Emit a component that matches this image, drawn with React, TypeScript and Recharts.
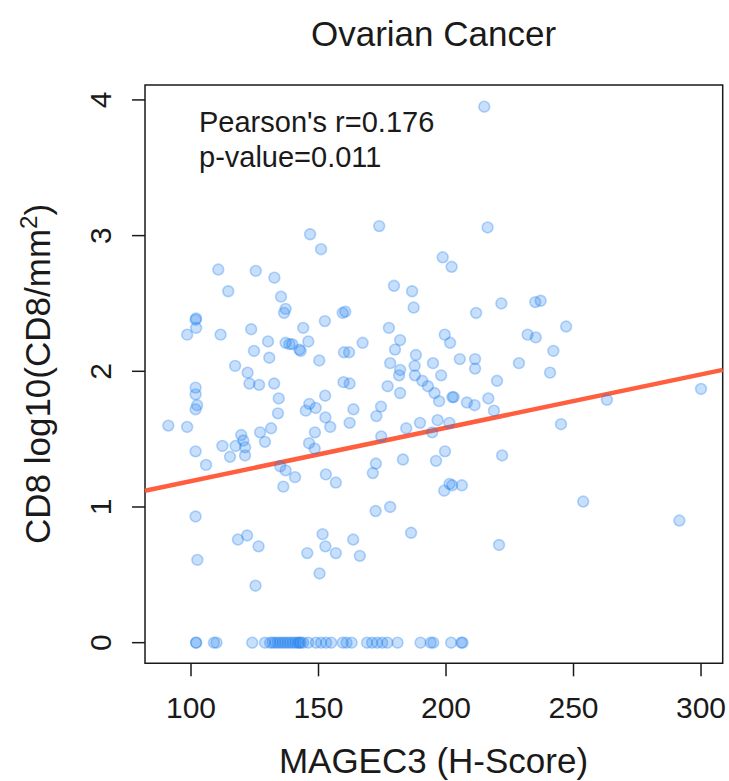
import React from "react";
import { ScatterChart, Scatter, XAxis, YAxis, ReferenceLine, ReferenceArea } from "recharts";

// MAGEC3 H-score values (x) and CD8 log10 density (y)
const mageScores: number[] = [
  215, 173.8, 216.3, 146.7, 151, 198.7, 202.2, 110.7, 125.4, 132.7,
  179.6, 186.7, 114.6, 135.3, 237.1, 235, 221.7, 187.3, 137.1, 136.5,
  211.8, 159.5, 160.5, 101.8, 102, 152.5, 247.1, 102, 123.6, 144,
  177.6, 98.5, 111.6, 232, 199.5, 235.2, 182, 130.2, 146, 137.1,
  138.6, 139.7, 167.3, 201.6, 180, 142.5, 143, 124.7, 242.1, 160,
  162, 188.2, 130.7, 150.3, 205.4, 211.4, 178.1, 194.9, 228.6, 117.3,
  187.7, 211.4, 182, 240.8, 122.2, 181.6, 187.8, 198.1, 220, 190.7,
  122.9, 126.7, 132.6, 159.8, 162.2, 177.1, 192.9, 101.8, 300, 101.8,
  182, 195.5, 152.6, 202.5, 203, 216.6, 134.4, 197.3, 263.1, 208.2,
  211.2, 146.4, 102.4, 174.5, 148.9, 101.8, 163.7, 145, 218.8, 134.1,
  172.7, 152.7, 189.8, 196.7, 201.3, 162.2, 245.1, 91.1, 98.5, 154.6,
  184.4, 131.4, 127.1, 148.6, 194.6, 119.7, 174.6, 120.5, 129, 146.3,
  117.5, 112.3, 121.2, 148.5, 101.8, 199.6, 121.2, 115.3, 222, 196.1,
  183.1, 172.5, 105.9, 135, 137.1, 171.3, 152.9, 140.8, 156.8, 201.4,
  202.4, 206.2, 136.2, 199.3, 253.8, 178.1, 172.4, 101.8, 291.5, 186.3,
  151.6, 122, 163.6, 118.4, 126.5, 220.8, 152.7, 145.6, 156.8, 166.2,
  102.5, 150.4, 125.3,
  // zero CD8 cases
  102, 102, 109, 110, 124, 129, 131, 132, 133, 134,
  135, 136, 137, 138, 139, 140, 141, 142, 142.5, 143,
  144, 146, 149, 151, 153, 155, 159.5, 161, 163, 169,
  171, 173, 175, 177, 181, 190, 194, 195, 202, 206, 206.5,
];

const cd8Log: number[] = [
  3.95, 3.07, 3.06, 3.01, 2.9, 2.84, 2.77, 2.75, 2.74, 2.69,
  2.63, 2.59, 2.59, 2.55, 2.52, 2.51, 2.5, 2.47, 2.46, 2.43,
  2.43, 2.43, 2.44, 2.38, 2.39, 2.37, 2.33, 2.32, 2.31, 2.32,
  2.32, 2.27, 2.27, 2.27, 2.27, 2.25, 2.23, 2.22, 2.22, 2.21,
  2.2, 2.2, 2.21, 2.21, 2.16, 2.16, 2.15, 2.15, 2.15, 2.14,
  2.14, 2.12, 2.1, 2.08, 2.09, 2.09, 2.06, 2.06, 2.06, 2.04,
  2.04, 2.02, 2.01, 1.99, 1.99, 1.97, 1.97, 1.97, 1.93, 1.93,
  1.91, 1.9, 1.91, 1.92, 1.91, 1.89, 1.89, 1.88, 1.87, 1.83,
  1.84, 1.84, 1.82, 1.81, 1.81, 1.8, 1.8, 1.78, 1.79, 1.77,
  1.75, 1.76, 1.75, 1.74, 1.73, 1.72, 1.72, 1.71, 1.71, 1.69,
  1.67, 1.66, 1.62, 1.64, 1.62, 1.62, 1.61, 1.6, 1.59, 1.59,
  1.58, 1.58, 1.55, 1.55, 1.55, 1.53, 1.52, 1.49, 1.48, 1.47,
  1.45, 1.45, 1.44, 1.43, 1.41, 1.41, 1.38, 1.37, 1.38, 1.34,
  1.35, 1.32, 1.31, 1.3, 1.27, 1.25, 1.24, 1.22, 1.18, 1.17,
  1.16, 1.16, 1.15, 1.12, 1.04, 1.0, 0.97, 0.93, 0.9, 0.81,
  0.8, 0.79, 0.76, 0.76, 0.71, 0.72, 0.71, 0.66, 0.66, 0.64,
  0.61, 0.51, 0.42,
  0, 0, 0, 0, 0, 0, 0, 0, 0, 0,
  0, 0, 0, 0, 0, 0, 0, 0, 0, 0,
  0, 0, 0, 0, 0, 0, 0, 0, 0, 0,
  0, 0, 0, 0, 0, 0, 0, 0, 0, 0, 0,
];

const xTicks: number[] = [100, 150, 200, 250, 300];
const yTicks: number[] = [0, 1, 2, 3, 4];
const xDomain: [number, number] = [81.96, 308.5];
const yDomain: [number, number] = [-0.152, 4.11];

// fitted regression line (intercept, slope) as drawn in the reference
const fitIntercept = 0.798;
const fitSlope = 0.00393;

const titleText = "Ovarian Cancer";
const xTitle = "MAGEC3 (H-Score)";
const statsLines: string[] = ["Pearson's r=0.176", "p-value=0.011"];

const points = mageScores.map((x, i) => ({ x, y: cd8Log[i] }));

const FONT = "'Liberation Sans', Arial, Helvetica, sans-serif";
const INK = "#1a1a1a";

const XTick = (props: any) => {
  const { x, y, payload } = props;
  return (
    <text x={x} y={y} dy="0.71em" textAnchor="middle" fontSize={30} fontFamily={FONT} fill={INK}>
      {payload.value}
    </text>
  );
};

const YTick = (props: any) => {
  const { x, y, payload } = props;
  return (
    <text
      x={x}
      y={y}
      transform={`rotate(-90 ${x} ${y})`}
      textAnchor="middle"
      fontSize={30}
      fontFamily={FONT}
      fill={INK}
    >
      {payload.value}
    </text>
  );
};

const Dot = (props: any) => {
  const { cx, cy } = props;
  if (cx == null || cy == null) return null;
  return (
    <circle
      cx={cx}
      cy={cy}
      r={5.4}
      fill="#1E7FF0"
      fillOpacity={0.25}
      stroke="#1E7FF0"
      strokeOpacity={0.32}
      strokeWidth={1.6}
    />
  );
};

export default function App() {
  return (
    <div style={{ position: "absolute", left: 0, top: 0, width: 729, height: 781, background: "#fff" }}>
      <ScatterChart
        width={729}
        height={781}
        margin={{ top: 85, right: 6.3, bottom: 57.7, left: 85 }}
        style={{ fontFamily: FONT }}
      >
        <XAxis
          type="number"
          dataKey="x"
          domain={xDomain}
          ticks={xTicks}
          allowDataOverflow
          height={60}
          tickSize={13}
          tickMargin={20}
          axisLine={false}
          tickLine={{ stroke: INK, strokeWidth: 1.5 }}
          tick={<XTick />}
        />
        <YAxis
          type="number"
          dataKey="y"
          domain={yDomain}
          ticks={yTicks}
          allowDataOverflow
          width={60}
          tickSize={13}
          tickMargin={21}
          axisLine={false}
          tickLine={{ stroke: INK, strokeWidth: 1.5 }}
          tick={<YTick />}
        />
        <Scatter data={points} isAnimationActive={false} shape={<Dot />} />
        <ReferenceLine
          segment={[
            { x: xDomain[0], y: fitIntercept + fitSlope * xDomain[0] },
            { x: xDomain[1], y: fitIntercept + fitSlope * xDomain[1] },
          ]}
          stroke="#FF5E3F"
          strokeWidth={4.5}
          ifOverflow="visible"
        />
        <ReferenceArea
          x1={xDomain[0]}
          x2={xDomain[1]}
          y1={yDomain[0]}
          y2={yDomain[1]}
          fill="none"
          fillOpacity={0}
          stroke={INK}
          strokeWidth={1.5}
          ifOverflow="visible"
        />
        <text x={433.5} y={46} textAnchor="middle" fontSize={35} fontFamily={FONT} fill={INK}>
          {titleText}
        </text>
        <text x={433.5} y={773} textAnchor="middle" fontSize={35} fontFamily={FONT} fill={INK}>
          {xTitle}
        </text>
        <text
          x={50}
          y={374}
          transform="rotate(-90 50 374)"
          textAnchor="middle"
          fontSize={35}
          fontFamily={FONT}
          fill={INK}
        >
          CD8 log10(CD8/mm
          <tspan fontSize={24} dy={-13}>2</tspan>
          <tspan dy={13}>)</tspan>
        </text>
        <text x={199} y={132} fontSize={29} fontFamily={FONT} fill={INK}>
          {statsLines[0]}
        </text>
        <text x={199} y={167} fontSize={29} fontFamily={FONT} fill={INK}>
          {statsLines[1]}
        </text>
      </ScatterChart>
    </div>
  );
}
